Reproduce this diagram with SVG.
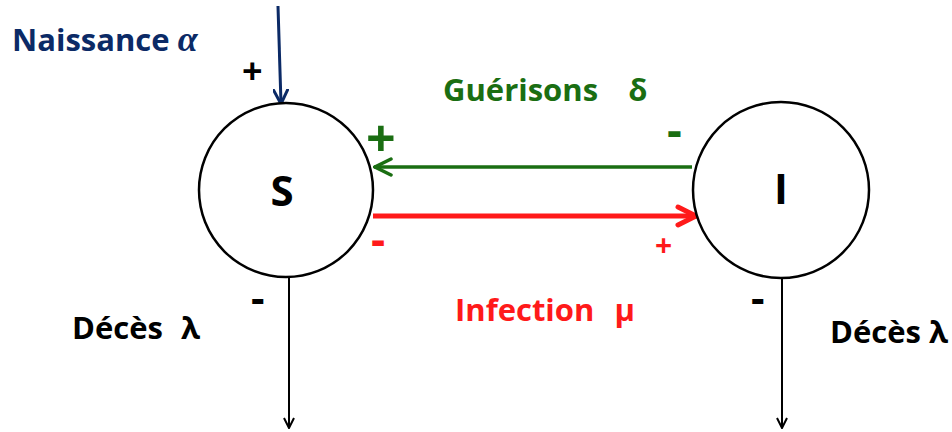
<svg xmlns="http://www.w3.org/2000/svg" width="952" height="432" viewBox="0 0 952 432">
  <style>
    text { font-family: "Open Sans", "Liberation Sans", sans-serif; font-weight: bold; }
    .node { fill: #ffffff; stroke: #000000; stroke-width: 2.5; }
    .nlabel { font-size: 42px; fill: #000000; text-anchor: middle; }
    .lbl { font-size: 31px; }
    .blk { fill: #000000; }
    .navy { fill: #0b2a66; }
    .green { fill: #1a6e12; }
    .red { fill: #ff1a1a; }
  </style>
  <defs>
    <marker id="headBlack" viewBox="0 0 12 12" refX="11" refY="6" markerWidth="12" markerHeight="12" markerUnits="userSpaceOnUse" orient="auto">
      <path d="M1,1 L11,6 L1,11" fill="none" stroke="#000" stroke-width="2"/>
    </marker>
    <marker id="headNavy" viewBox="0 0 16 16" refX="15" refY="8" markerWidth="16" markerHeight="16" markerUnits="userSpaceOnUse" orient="auto">
      <path d="M1,1 L15,8 L1,15" fill="none" stroke="#0b2a66" stroke-width="3" stroke-linecap="round"/>
    </marker>
    <marker id="headGreen" viewBox="0 0 20 20" refX="19" refY="10" markerWidth="20" markerHeight="20" markerUnits="userSpaceOnUse" orient="auto">
      <path d="M2,2 L18,10 L2,18" fill="none" stroke="#1a6e12" stroke-width="3.5" stroke-linecap="round"/>
    </marker>
    <marker id="headRed" viewBox="0 0 24 24" refX="22" refY="12" markerWidth="24" markerHeight="24" markerUnits="userSpaceOnUse" orient="auto">
      <path d="M3,3 L21,12 L3,21" fill="none" stroke="#ff1a1a" stroke-width="5" stroke-linecap="round"/>
    </marker>
  </defs>

  <!-- flows between compartments -->
  <g id="connectors">
    <line x1="278" y1="6" x2="281" y2="104" stroke="#0b2a66" stroke-width="3" marker-end="url(#headNavy)"/>
    <line x1="692" y1="167" x2="374" y2="167" stroke="#1a6e12" stroke-width="3.5" marker-end="url(#headGreen)"/>
    <line x1="373" y1="216" x2="697" y2="216" stroke="#ff1a1a" stroke-width="5" marker-end="url(#headRed)"/>
    <line x1="289" y1="277" x2="289" y2="428" stroke="#000" stroke-width="2" marker-end="url(#headBlack)"/>
    <line x1="782" y1="278" x2="782" y2="428" stroke="#000" stroke-width="2" marker-end="url(#headBlack)"/>
  </g>

  <!-- susceptible compartment -->
  <g id="node-S">
    <circle class="node" cx="286" cy="190" r="87"/>
    <text class="nlabel" x="282" y="206">S</text>
  </g>

  <!-- infected compartment -->
  <g id="node-I">
    <circle class="node" cx="781" cy="190" r="88"/>
    <text class="nlabel" x="781" y="204">I</text>
  </g>

  <!-- flow labels -->
  <g id="labels">
    <text class="lbl navy" x="12" y="51">Naissance <tspan font-family="Liberation Serif, serif" font-style="italic" font-size="36">α</tspan></text>
    <text class="blk" x="242" y="84" font-size="36">+</text>

    <text class="lbl green" x="443" y="101">Guérisons <tspan dx="22">δ</tspan></text>
    <text class="green" x="366" y="157" font-size="52">+</text>
    <text class="green" x="667" y="147" font-size="46">-</text>

    <text class="red" x="371" y="255" font-size="44">-</text>
    <text class="red" x="655" y="256" font-size="30">+</text>
    <text class="lbl red" x="455" y="321">Infection <tspan dx="12">μ</tspan></text>

    <text class="blk" x="251" y="313" font-size="42">-</text>
    <text class="lbl blk" x="72" y="339">Décès <tspan dx="10">λ</tspan></text>

    <text class="blk" x="751" y="313" font-size="42">-</text>
    <text class="lbl blk" x="830" y="343">Décès λ</text>
  </g>
</svg>
